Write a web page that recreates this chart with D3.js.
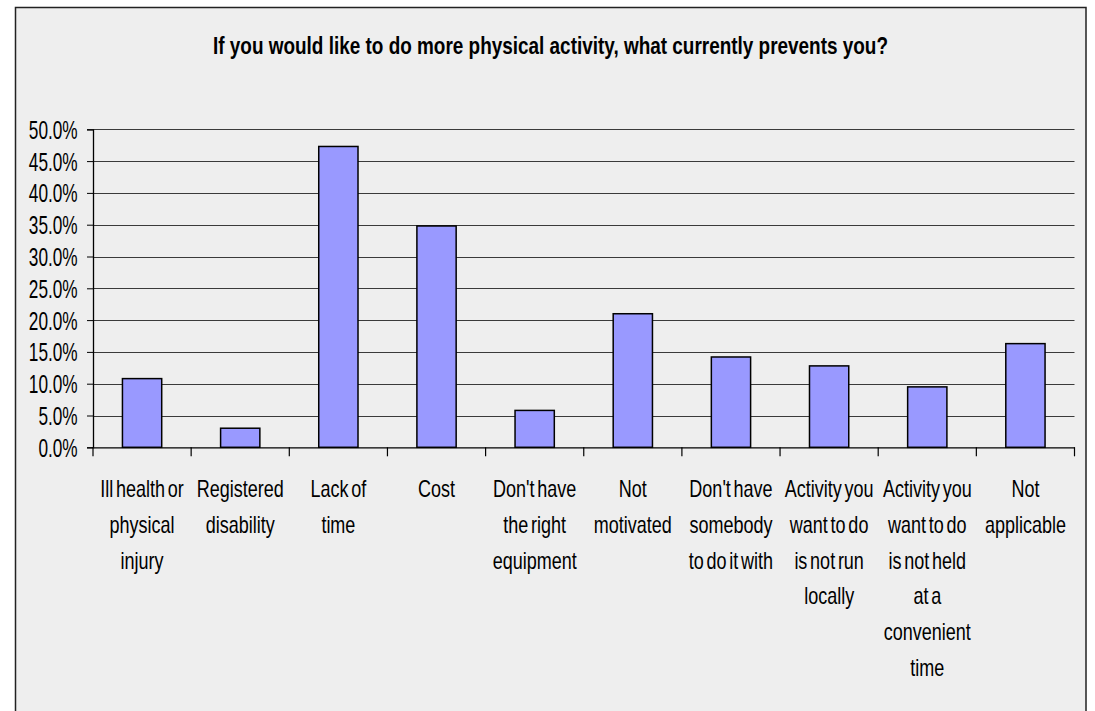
<!DOCTYPE html>
<html>
<head>
<meta charset="utf-8">
<script src="https://cdn.jsdelivr.net/npm/d3@7"></script>
<style>
  html, body { margin: 0; padding: 0; background: #ffffff; }
  svg { display: block; }
  text { font-family: "Liberation Sans", Arial, sans-serif; fill: #000; }
</style>
</head>
<body>
<svg id="chart" width="1095" height="711"></svg>
<script>
const titleText = "If you would like to do more physical activity, what currently prevents you?";
const categories = [
  "Ill health or physical injury",
  "Registered disability",
  "Lack of time",
  "Cost",
  "Don't have the right equipment",
  "Not motivated",
  "Don't have somebody to do it with",
  "Activity you want to do is not run locally",
  "Activity you want to do is not held at a convenient time",
  "Not applicable"
];
const categoryLines = [
  ["Ill health or", "physical", "injury"],
  ["Registered", "disability"],
  ["Lack of", "time"],
  ["Cost"],
  ["Don't have", "the right", "equipment"],
  ["Not", "motivated"],
  ["Don't have", "somebody", "to do it with"],
  ["Activity you", "want to do", "is not run", "locally"],
  ["Activity you", "want to do", "is not held", "at a", "convenient", "time"],
  ["Not", "applicable"]
];
const values = [0.108, 0.030, 0.473, 0.348, 0.058, 0.210, 0.142, 0.128, 0.095, 0.163];
const yTicks = [0, 0.05, 0.10, 0.15, 0.20, 0.25, 0.30, 0.35, 0.40, 0.45, 0.50];

const svg = d3.select("#chart");

// outer chart area
svg.append("rect")
  .attr("x", 15.5).attr("y", 7.5)
  .attr("width", 1070.5).attr("height", 720)
  .attr("fill", "#eeeeee")
  .attr("stroke", "#222").attr("stroke-width", 1.5);

const plotLeft = 93, plotRight = 1074.5, plotTop = 129.3, plotBottom = 447.3;
const ySx = 0.69, xSx = 0.75;

const x = d3.scaleBand()
  .domain(categories)
  .range([plotLeft, plotRight])
  .paddingInner(0.6)
  .paddingOuter(0.3);

const y = d3.scaleLinear()
  .domain([0, 0.5])
  .range([plotBottom, plotTop]);

// title
svg.append("text")
  .attr("x", 550.5).attr("y", 54)
  .attr("text-anchor", "middle")
  .attr("font-size", 24)
  .attr("font-weight", "bold")
  .attr("textLength", 675)
  .attr("lengthAdjust", "spacingAndGlyphs")
  .text(titleText);

// gridlines
svg.append("g")
  .selectAll("line")
  .data(yTicks.filter(t => t > 0))
  .join("line")
  .attr("x1", plotLeft).attr("x2", plotRight)
  .attr("y1", d => Math.round(y(d)) + 0.5)
  .attr("y2", d => Math.round(y(d)) + 0.5)
  .attr("stroke", "#3a3a3a").attr("stroke-width", 1.2);

// y axis
const yAxis = svg.append("g")
  .attr("transform", `translate(${plotLeft},0)`)
  .call(d3.axisLeft(y).tickValues(yTicks).tickFormat(d3.format(".1%")).tickSize(6));
yAxis.select(".domain").attr("stroke", "#000").attr("stroke-width", 1.3);
yAxis.selectAll(".tick line").attr("stroke", "#000");
yAxis.selectAll(".tick text")
  .attr("font-size", 25)
  .attr("font-family", null)
  .attr("x", -15.3 / ySx)
  .attr("dy", "0.36em")
  .attr("transform", `scale(${ySx},1)`);

// bars
svg.append("g")
  .selectAll("rect")
  .data(values)
  .join("rect")
  .attr("x", (d, i) => x(categories[i]))
  .attr("y", d => y(d))
  .attr("width", x.bandwidth())
  .attr("height", d => y(0) - y(d))
  .attr("fill", "#9999ff")
  .attr("stroke", "#000")
  .attr("stroke-width", 1.5);

// x axis
const xAxis = svg.append("g")
  .attr("transform", `translate(0,${plotBottom})`)
  .call(d3.axisBottom(x).tickSize(0).tickFormat(""));
xAxis.select(".domain").attr("stroke", "#000").attr("stroke-width", 1.3);

// tick marks between categories
const boundaries = d3.range(categories.length + 1).map(i => plotLeft + i * x.step());
svg.append("g")
  .selectAll("line")
  .data(boundaries)
  .join("line")
  .attr("x1", d => d).attr("x2", d => d)
  .attr("y1", plotBottom).attr("y2", plotBottom + 9)
  .attr("stroke", "#000").attr("stroke-width", 1.2);

// category labels
const labels = svg.append("g");
categories.forEach((c, i) => {
  const t = labels.append("text")
    .attr("text-anchor", "middle")
    .attr("font-size", 24)
    .attr("transform", `translate(${x(c) + x.bandwidth() / 2},0) scale(${xSx},1)`)
    .style("word-spacing", "-3px");
  categoryLines[i].forEach((ln, j) => {
    t.append("tspan")
      .attr("x", 0)
      .attr("y", 497 + j * 35.8)
      .text(ln);
  });
});
</script>
</body>
</html>
